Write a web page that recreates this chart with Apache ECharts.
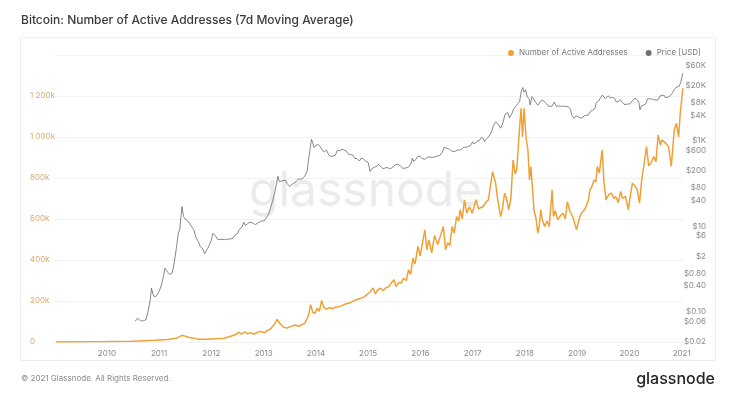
<!DOCTYPE html>
<html>
<head>
<meta charset="utf-8">
<script src="https://cdn.jsdelivr.net/npm/echarts@6/dist/echarts.min.js"></script>
<style>
  html, body { margin: 0; padding: 0; background: #fff; }
  #chart { width: 730px; height: 398px; }
</style>
</head>
<body>
<div id="chart"></div>
<script>
// active addresses, 7d moving average
var addrData = [
  ['2009-01-09', 0], ['2009-06-01', 1000], ['2010-01-01', 2000], ['2010-07-01', 4000], ['2010-12-01', 8000],
  ['2011-03-01', 12000], ['2011-05-01', 18000], ['2011-06-10', 32000], ['2011-06-25', 30000], ['2011-08-01', 22000],
  ['2011-10-01', 14000], ['2011-12-01', 13000], ['2012-02-01', 16000], ['2012-04-01', 18000], ['2012-05-15', 28000],
  ['2012-06-15', 35000], ['2012-07-10', 48000], ['2012-08-01', 38000], ['2012-08-20', 50000], ['2012-09-10', 40000],
  ['2012-10-01', 46000], ['2012-10-20', 38000], ['2012-11-15', 45000], ['2012-12-10', 52000], ['2013-01-05', 45000],
  ['2013-01-25', 55000], ['2013-02-15', 62000], ['2013-03-10', 80000], ['2013-04-05', 110000], ['2013-04-25', 90000],
  ['2013-05-20', 72000], ['2013-06-15', 68000], ['2013-07-05', 75000], ['2013-07-25', 80000], ['2013-08-15', 82000],
  ['2013-09-05', 76000], ['2013-09-25', 85000], ['2013-10-15', 90000], ['2013-11-10', 130000], ['2013-11-25', 182000],
  ['2013-12-10', 145000], ['2013-12-25', 140000], ['2014-01-10', 165000], ['2014-01-25', 150000], ['2014-02-10', 203000],
  ['2014-02-25', 170000], ['2014-03-15', 160000], ['2014-04-05', 168000], ['2014-04-25', 162000], ['2014-05-15', 170000],
  ['2014-06-05', 172000], ['2014-06-25', 175000], ['2014-07-15', 182000], ['2014-08-05', 188000], ['2014-08-25', 190000],
  ['2014-09-15', 198000], ['2014-10-05', 205000], ['2014-10-25', 210000], ['2014-11-15', 214000], ['2014-12-05', 220000],
  ['2014-12-25', 232000], ['2015-01-15', 245000], ['2015-02-05', 263000], ['2015-02-20', 235000], ['2015-03-10', 255000],
  ['2015-03-30', 262000], ['2015-04-15', 250000], ['2015-05-05', 265000], ['2015-05-25', 270000], ['2015-06-15', 290000],
  ['2015-07-01', 304000], ['2015-07-15', 270000], ['2015-08-01', 290000], ['2015-08-20', 287000], ['2015-09-05', 310000],
  ['2015-09-25', 300000], ['2015-10-10', 352000], ['2015-10-25', 330000], ['2015-11-10', 409000], ['2015-11-25', 380000],
  ['2015-12-15', 466000], ['2015-12-31', 420000], ['2016-02-01', 547000], ['2016-02-15', 450000], ['2016-03-01', 498000],
  ['2016-03-20', 435000], ['2016-04-10', 520000], ['2016-05-01', 475000], ['2016-06-10', 563000], ['2016-06-25', 450000],
  ['2016-07-10', 484000], ['2016-07-25', 470000], ['2016-08-10', 563000], ['2016-08-25', 530000], ['2016-09-10', 612000],
  ['2016-09-25', 590000], ['2016-10-05', 645000], ['2016-10-20', 600000], ['2016-11-05', 693000], ['2016-11-20', 630000],
  ['2016-12-10', 660000], ['2016-12-28', 628000], ['2017-01-25', 693000], ['2017-02-10', 650000], ['2017-03-15', 661000],
  ['2017-04-01', 680000], ['2017-04-20', 693000], ['2017-05-20', 831000], ['2017-06-10', 775000], ['2017-06-25', 693000],
  ['2017-07-15', 612000], ['2017-07-28', 650000], ['2017-08-12', 726000], ['2017-08-25', 700000], ['2017-09-10', 645000],
  ['2017-09-25', 700000], ['2017-10-10', 888000], ['2017-10-25', 820000], ['2017-11-05', 840000], ['2017-11-25', 1050000],
  ['2017-12-05', 1140000], ['2017-12-15', 1002000], ['2017-12-26', 1140000], ['2018-01-10', 990000], ['2018-01-22', 937000],
  ['2018-02-02', 791000], ['2018-02-12', 856000], ['2018-03-05', 645000], ['2018-03-20', 600000], ['2018-04-01', 531000],
  ['2018-04-10', 560000], ['2018-04-22', 645000], ['2018-05-01', 600000], ['2018-05-18', 563000], ['2018-06-05', 590000],
  ['2018-06-20', 563000], ['2018-07-10', 742000], ['2018-07-20', 612000], ['2018-08-01', 640000], ['2018-08-18', 596000],
  ['2018-09-10', 620000], ['2018-09-25', 628000], ['2018-10-10', 600000], ['2018-10-25', 685000], ['2018-11-10', 640000],
  ['2018-12-01', 612000], ['2018-12-28', 547000], ['2019-01-15', 600000], ['2019-01-30', 628000], ['2019-02-15', 640000],
  ['2019-03-05', 661000], ['2019-03-20', 690000], ['2019-04-01', 742000], ['2019-04-15', 760000], ['2019-04-30', 791000],
  ['2019-05-12', 780000], ['2019-05-22', 856000], ['2019-06-05', 824000], ['2019-06-25', 937000], ['2019-07-08', 775000],
  ['2019-07-22', 693000], ['2019-08-10', 720000], ['2019-08-28', 726000], ['2019-09-15', 700000], ['2019-09-28', 710000],
  ['2019-10-15', 680000], ['2019-11-01', 734000], ['2019-11-15', 700000], ['2019-12-05', 710000], ['2019-12-25', 645000],
  ['2020-01-05', 700000], ['2020-01-22', 775000], ['2020-02-10', 760000], ['2020-02-25', 742000], ['2020-03-12', 677000],
  ['2020-03-25', 775000], ['2020-04-10', 856000], ['2020-04-30', 953000], ['2020-05-15', 860000], ['2020-05-30', 872000],
  ['2020-06-20', 904000], ['2020-07-05', 880000], ['2020-07-20', 1010000], ['2020-08-05', 960000], ['2020-08-15', 986000],
  ['2020-09-10', 970000], ['2020-10-01', 953000], ['2020-10-20', 856000], ['2020-11-10', 1035000], ['2020-11-25', 1067000],
  ['2020-12-10', 1000000], ['2020-12-22', 1116000], ['2021-01-09', 1238000]
];

// price in USD (right, log axis)
var priceData = [
  ['2010-07-18', 0.06], ['2010-08-01', 0.07], ['2010-08-15', 0.065], ['2010-09-01', 0.06], ['2010-09-15', 0.062],
  ['2010-10-01', 0.065], ['2010-10-15', 0.1], ['2010-11-01', 0.2], ['2010-11-08', 0.36], ['2010-11-20', 0.25],
  ['2010-12-01', 0.22], ['2010-12-15', 0.24], ['2011-01-01', 0.3], ['2011-01-15', 0.4], ['2011-02-01', 0.7],
  ['2011-02-10', 1.05], ['2011-03-01', 0.85], ['2011-03-15', 0.75], ['2011-04-01', 0.8], ['2011-04-15', 1.3],
  ['2011-05-01', 3], ['2011-05-15', 7], ['2011-05-25', 8.3], ['2011-06-03', 18], ['2011-06-10', 29],
  ['2011-06-20', 17], ['2011-07-01', 15], ['2011-07-15', 14], ['2011-08-01', 12], ['2011-08-15', 10],
  ['2011-09-01', 8.3], ['2011-09-15', 5.5], ['2011-10-01', 4.5], ['2011-10-15', 3.4], ['2011-11-01', 3],
  ['2011-11-15', 2.3], ['2011-11-25', 2.2], ['2011-12-05', 3], ['2011-12-15', 3.5], ['2012-01-01', 4.8],
  ['2012-01-12', 6.9], ['2012-02-01', 5.8], ['2012-02-15', 4.9], ['2012-03-01', 4.9], ['2012-03-15', 5],
  ['2012-04-01', 4.9], ['2012-04-15', 5], ['2012-05-01', 5], ['2012-05-15', 5.1], ['2012-06-01', 5.3],
  ['2012-06-15', 6.3], ['2012-07-01', 6.7], ['2012-07-15', 8.5], ['2012-08-01', 9.5], ['2012-08-15', 12.5],
  ['2012-08-25', 10.5], ['2012-09-05', 11], ['2012-09-20', 12.2], ['2012-10-05', 12.5], ['2012-10-20', 11.8],
  ['2012-11-05', 11], ['2012-11-20', 12], ['2012-12-05', 13], ['2012-12-20', 13.4], ['2013-01-05', 13.5],
  ['2013-01-20', 16], ['2013-02-05', 20], ['2013-02-20', 29], ['2013-03-05', 40], ['2013-03-20', 65],
  ['2013-04-01', 103], ['2013-04-10', 150], ['2013-04-20', 112], ['2013-05-01', 115], ['2013-05-15', 118],
  ['2013-06-01', 122], ['2013-06-15', 100], ['2013-07-01', 86], ['2013-07-15', 95], ['2013-08-01', 104],
  ['2013-08-15', 112], ['2013-09-01', 130], ['2013-09-15', 127], ['2013-10-01', 134], ['2013-10-15', 150],
  ['2013-11-01', 200], ['2013-11-10', 363], ['2013-11-20', 600], ['2013-12-01', 1100], ['2013-12-10', 900],
  ['2013-12-20', 700], ['2014-01-01', 800], ['2014-01-15', 830], ['2014-02-01', 740], ['2014-02-15', 600],
  ['2014-03-01', 560], ['2014-03-15', 620], ['2014-04-01', 470], ['2014-04-15', 435], ['2014-05-01', 450],
  ['2014-05-15', 460], ['2014-06-01', 615], ['2014-06-15', 590], ['2014-07-01', 640], ['2014-07-15', 620],
  ['2014-08-01', 590], ['2014-08-15', 500], ['2014-09-01', 480], ['2014-09-15', 470], ['2014-10-01', 390],
  ['2014-10-15', 390], ['2014-11-01', 340], ['2014-11-15', 400], ['2014-12-01', 375], ['2014-12-15', 340],
  ['2015-01-01', 315], ['2015-01-15', 193], ['2015-02-01', 230], ['2015-02-15', 245], ['2015-03-01', 255],
  ['2015-03-15', 285], ['2015-04-01', 250], ['2015-04-15', 225], ['2015-05-01', 235], ['2015-05-15', 240],
  ['2015-06-01', 225], ['2015-06-15', 235], ['2015-07-01', 260], ['2015-07-15', 285], ['2015-08-01', 282],
  ['2015-08-15', 260], ['2015-09-01', 230], ['2015-09-15', 232], ['2015-10-01', 238], ['2015-10-15', 255],
  ['2015-11-01', 320], ['2015-11-05', 400], ['2015-11-15', 335], ['2015-12-01', 370], ['2015-12-15', 445],
  ['2016-01-01', 430], ['2016-01-15', 390], ['2016-02-01', 375], ['2016-02-15', 405], ['2016-03-01', 430],
  ['2016-03-15', 415], ['2016-04-01', 418], ['2016-04-15', 430], ['2016-05-01', 450], ['2016-05-15', 455],
  ['2016-06-01', 540], ['2016-06-17', 720], ['2016-07-01', 680], ['2016-07-15', 665], ['2016-08-01', 600],
  ['2016-08-15', 570], ['2016-09-01', 575], ['2016-09-15', 610], ['2016-10-01', 615], ['2016-10-15', 640],
  ['2016-11-01', 720], ['2016-11-15', 710], ['2016-12-01', 750], ['2016-12-15', 780], ['2017-01-01', 960],
  ['2017-01-10', 850], ['2017-01-20', 900], ['2017-02-01', 990], ['2017-02-15', 1010], ['2017-03-01', 1200],
  ['2017-03-15', 1170], ['2017-03-25', 960], ['2017-04-01', 1080], ['2017-04-15', 1180], ['2017-05-01', 1400],
  ['2017-05-15', 1750], ['2017-05-25', 2300], ['2017-06-10', 2800], ['2017-06-25', 2550], ['2017-07-05', 2600],
  ['2017-07-16', 2000], ['2017-08-01', 2750], ['2017-08-15', 4200], ['2017-09-01', 4700], ['2017-09-15', 3500],
  ['2017-10-01', 4350], ['2017-10-15', 5700], ['2017-11-01', 6700], ['2017-11-12', 6200], ['2017-11-25', 8500],
  ['2017-12-07', 15000], ['2017-12-17', 18000], ['2017-12-25', 14000], ['2018-01-06', 16000], ['2018-01-17', 11000],
  ['2018-02-01', 9500], ['2018-02-06', 7000], ['2018-02-20', 11000], ['2018-03-05', 11000], ['2018-03-18', 8000],
  ['2018-04-01', 6900], ['2018-04-15', 8000], ['2018-05-01', 9200], ['2018-05-15', 8500], ['2018-06-01', 7500],
  ['2018-06-15', 6500], ['2018-06-28', 6000], ['2018-07-10', 6600], ['2018-07-25', 8200], ['2018-08-10', 6400],
  ['2018-08-25', 6700], ['2018-09-05', 7300], ['2018-09-15', 6500], ['2018-10-01', 6600], ['2018-10-15', 6450],
  ['2018-11-01', 6350], ['2018-11-15', 5600], ['2018-11-25', 4000], ['2018-12-10', 3400], ['2018-12-25', 3900],
  ['2019-01-05', 3950], ['2019-01-20', 3550], ['2019-02-05', 3450], ['2019-02-20', 3950], ['2019-03-05', 3800],
  ['2019-03-20', 4050], ['2019-04-05', 5000], ['2019-04-20', 5300], ['2019-05-05', 5800], ['2019-05-15', 8000],
  ['2019-05-30', 8600], ['2019-06-10', 7900], ['2019-06-26', 12000], ['2019-07-05', 11000], ['2019-07-18', 9800],
  ['2019-08-05', 11500], ['2019-08-20', 10300], ['2019-09-05', 10500], ['2019-09-20', 10000], ['2019-10-01', 8300],
  ['2019-10-15', 8300], ['2019-10-28', 9400], ['2019-11-10', 8800], ['2019-11-25', 7200], ['2019-12-10', 7300],
  ['2019-12-20', 7150], ['2020-01-05', 7400], ['2020-01-20', 8700], ['2020-02-10', 10100], ['2020-02-25', 9300],
  ['2020-03-08', 8000], ['2020-03-15', 5400], ['2020-03-25', 6600], ['2020-04-10', 7000], ['2020-04-25', 7500],
  ['2020-05-08', 9800], ['2020-05-20', 9300], ['2020-06-05', 9700], ['2020-06-20', 9400], ['2020-07-05', 9100],
  ['2020-07-20', 9300], ['2020-08-01', 11300], ['2020-08-15', 11800], ['2020-09-01', 11700], ['2020-09-10', 10300],
  ['2020-09-25', 10700], ['2020-10-10', 11300], ['2020-10-25', 13000], ['2020-11-05', 15000], ['2020-11-20', 18000],
  ['2020-12-01', 19000], ['2020-12-15', 19300], ['2020-12-25', 24000], ['2021-01-03', 32000], ['2021-01-09', 39000]
];

var yearTicks = ['2010', '2011', '2012', '2013', '2014', '2015', '2016', '2017', '2018', '2019', '2020', '2021'];
var priceTicks = [0.02, 0.06, 0.1, 0.4, 0.8, 2, 6, 10, 40, 80, 200, 600, 1000, 4000, 8000, 20000, 60000];

// dates -> UTC ms for a plain value x axis
function toTs (rows) {
  return rows.map(function (r) { return [Date.parse(r[0] + 'T00:00:00Z'), r[1]]; });
}

function addrLabel (v) {
  if (v === 0) return '0';
  var k = v / 1000;
  if (k >= 1000) return Math.floor(k / 1000) + ' ' + String(k % 1000).padStart(3, '0') + 'k';
  return k + 'k';
}

function priceLabel (v) {
  if (v >= 1000) return '$' + Math.round(v / 1000) + 'K';
  if (v < 1) return '$' + v.toFixed(2);
  return '$' + Math.round(v);
}

var font = 'Inter, "Noto Sans", sans-serif';
var chart = echarts.init(document.getElementById('chart'));

chart.setOption({
  animation: false,
  backgroundColor: '#fff',
  textStyle: { fontFamily: font },
  title: {
    text: 'Bitcoin: Number of Active Addresses (7d Moving Average)',
    left: 16,
    top: 9,
    textStyle: { fontSize: 12, fontWeight: 500, color: '#3a3a3a', fontFamily: font }
  },
  graphic: [
    {
      type: 'rect', z: -10,
      shape: { x: 20.5, y: 37.5, width: 695, height: 323 },
      style: { fill: 'none', stroke: '#eeeeee', lineWidth: 1 }
    },
    {
      type: 'text', z: -5, left: 249, top: 168,
      style: { text: 'glassnode', fontSize: 48, fontFamily: font, fontWeight: 400, fill: '#ebebeb' }
    },
    {
      type: 'text', left: 21, top: 375,
      style: { text: '© 2021 Glassnode. All Rights Reserved.', fontSize: 8, fontFamily: font, fill: '#8a8a8a' }
    },
    {
      type: 'text', right: 15, top: 371,
      style: { text: 'glassnode', fontSize: 16, fontFamily: font, fontWeight: 500, fill: '#262626' }
    }
  ],
  legend: {
    right: 24,
    top: 44,
    itemWidth: 6,
    itemHeight: 6,
    itemGap: 18,
    icon: 'circle',
    textStyle: { fontSize: 8, color: '#777', fontFamily: font },
    data: ['Number of Active Addresses', 'Price [USD]']
  },
  grid: { left: 55, right: 47, top: 55, bottom: 56 },
  xAxis: {
    type: 'value',
    min: Date.parse('2009-01-03T00:00:00Z'),
    max: Date.parse('2021-01-10T00:00:00Z'),
    axisLine: { show: false },
    axisTick: { show: false },
    splitLine: { show: false },
    axisLabel: {
      customValues: yearTicks.map(function (y) { return Date.UTC(+y, 0, 1); }),
      formatter: function (v) { return String(new Date(v).getUTCFullYear()); },
      fontSize: 8,
      color: '#8a8a8a',
      margin: 8
    }
  },
  yAxis: [
    {
      type: 'value',
      min: 0,
      max: 1400000,
      interval: 200000,
      axisLine: { show: false },
      axisTick: { show: false },
      splitLine: { lineStyle: { color: '#f2f2f2', width: 1 } },
      axisLabel: {
        showMaxLabel: false,
        align: 'left',
        margin: 25,
        fontSize: 8,
        color: '#d8aa70',
        padding: [0, 0, 7, 0],
        formatter: addrLabel
      }
    },
    {
      type: 'log',
      logBase: 10,
      min: 0.0195,
      max: 104000,
      position: 'right',
      axisLine: { show: false },
      axisTick: { show: false },
      splitLine: { show: false },
      axisLabel: {
        customValues: priceTicks,
        align: 'right',
        margin: 23,
        fontSize: 8,
        color: '#8a8a8a',
        padding: [0, 0, 7, 0],
        formatter: priceLabel
      }
    }
  ],
  series: [
    {
      name: 'Number of Active Addresses',
      type: 'line',
      yAxisIndex: 0,
      showSymbol: false,
      symbol: 'circle',
      color: '#f0a136',
      lineStyle: { width: 1.5, color: '#f0a136' },
      data: toTs(addrData),
      z: 3
    },
    {
      name: 'Price [USD]',
      type: 'line',
      yAxisIndex: 1,
      showSymbol: false,
      symbol: 'circle',
      color: '#707070',
      lineStyle: { width: 0.8, color: '#6a6a6a' },
      data: toTs(priceData),
      z: 2
    }
  ]
});
</script>
</body>
</html>
